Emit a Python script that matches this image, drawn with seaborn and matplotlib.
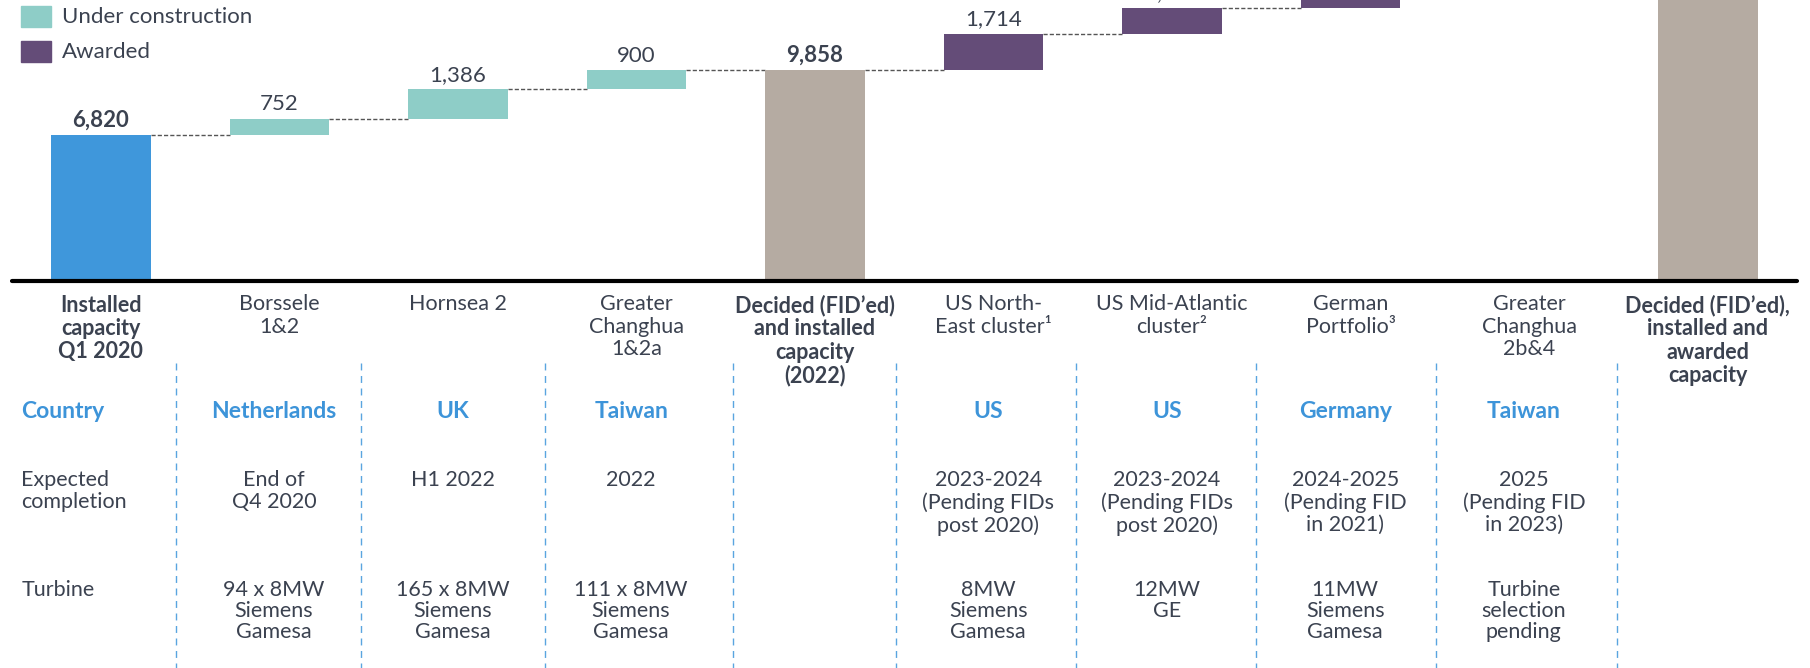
import numpy as np
import pandas as pd
import matplotlib
matplotlib.use("Agg")
import matplotlib.pyplot as plt
import matplotlib.transforms as mtransforms
from matplotlib.patches import Rectangle
import seaborn as sns

# ===============================
# Data
# ===============================
categories = [
    "Installed\ncapacity\nQ1 2020",
    "Borssele\n1&2",
    "Hornsea 2",
    "Greater\nChanghua\n1&2a",
    "Decided (FID’ed)\nand installed\ncapacity\n(2022)",
    "US North-\nEast cluster¹",
    "US Mid-Atlantic\ncluster²",
    "German\nPortfolio³",
    "Greater\nChanghua\n2b&4",
    "Decided (FID’ed),\ninstalled and\nawarded\ncapacity",
]
values = [6820, 752, 1386, 900, 9858, 1714, 1220, 1142, 920, 14854]
kinds = ["installed", "construction", "construction", "construction", "total",
         "awarded", "awarded", "awarded", "awarded", "total"]

countries = ["", "Netherlands", "UK", "Taiwan", "", "US", "US", "Germany", "Taiwan", ""]
completion = ["", "End of\nQ4 2020", "H1 2022", "2022", "",
              "2023-2024\n(Pending FIDs\npost 2020)", "2023-2024\n(Pending FIDs\npost 2020)",
              "2024-2025\n(Pending FID\nin 2021)", "2025\n(Pending FID\nin 2023)", ""]
turbines = ["", "94 x 8MW\nSiemens\nGamesa", "165 x 8MW\nSiemens\nGamesa", "111 x 8MW\nSiemens\nGamesa", "",
            "8MW\nSiemens\nGamesa", "12MW\nGE", "11MW\nSiemens\nGamesa", "Turbine\nselection\npending", ""]
row_labels = ["Country", "Expected\ncompletion", "Turbine"]

colors = {"installed": "#3f97db", "construction": "#8ecdc7",
          "awarded": "#644c78", "total": "#b5aba2"}
TEXT = "#3b4250"
BLUE = "#3d94d9"

# waterfall bottoms
bottoms = []
running = 0
for v, k in zip(values, kinds):
    if k in ("installed", "total"):
        bottoms.append(0)
        running = v
    else:
        bottoms.append(running)
        running += v
tops = [b + v for b, v in zip(bottoms, values)]

df = pd.DataFrame({"category": categories, "value": values, "kind": kinds})

# ===============================
# Figure
# ===============================
sns.set_style("white")
plt.rcParams["font.family"] = ["Lato", "DejaVu Sans"]

W, H = 1810, 668
fig = plt.figure(figsize=(W / 100, H / 100), dpi=100)
base_px = 280.5
ax = fig.add_axes([11.5 / W, (H - base_px) / H, 1785.5 / W, base_px / H])

sns.barplot(data=df, x="category", y="value", hue="category",
            palette=[colors[k] for k in kinds], width=0.558,
            saturation=1, legend=False, ax=ax)

for cont, b in zip(ax.containers, bottoms):
    for p in cont:
        p.set_y(b)
        p.set_linewidth(0)

ax.set_xlim(-0.5, 9.5)
ax.set_ylim(0, base_px / 0.02134)
ax.set_xticks([])
ax.set_yticks([])
ax.set_xlabel("")
ax.set_ylabel("")
for s in ax.spines.values():
    s.set_visible(False)
ax.axhline(0, color="black", lw=3, clip_on=False)

# connectors
hw = 0.558 / 2
for i in range(len(values) - 1):
    ax.plot([i + hw, i + 1 - hw], [tops[i], tops[i]], color="#555555",
            lw=1, ls=(0, (3, 1.5)), zorder=0)

# value labels
for i, (v, t, k) in enumerate(zip(values, tops, kinds)):
    ax.annotate(f"{v:,}", (i, t), xytext=(0, 6.2), textcoords="offset points",
                ha="center", va="baseline", fontsize=16, color=TEXT,
                fontweight="bold" if k in ("installed", "total") else "normal")

# ===============================
# Table below
# ===============================
trans = mtransforms.blended_transform_factory(ax.transData, fig.transFigure)
fy = lambda px: 1 - px / H

for i, c in enumerate(categories):
    bold = kinds[i] in ("installed", "total")
    ax.text(i, fy(294.5), c, transform=trans, ha="center", va="top",
            fontsize=15.5, color=TEXT, linespacing=1.13,
            fontweight="bold" if bold else "normal")

for i in range(len(categories)):
    xc = i - 0.03
    if countries[i]:
        ax.text(xc, fy(401.5), countries[i], transform=trans, ha="center", va="top",
                fontsize=16.5, color=BLUE, fontweight="bold")
    if completion[i]:
        ax.text(xc, fy(469.5), completion[i], transform=trans, ha="center", va="top",
                fontsize=15.5, color=TEXT, linespacing=1.15)
    if turbines[i]:
        ax.text(xc, fy(580.5), turbines[i], transform=trans, ha="center", va="top",
                fontsize=15.5, color=TEXT, linespacing=1.06)

lx = -0.446
ax.text(lx, fy(401.5), row_labels[0], transform=trans, ha="left", va="top",
        fontsize=16.5, color=BLUE, fontweight="bold")
ax.text(lx, fy(469.5), row_labels[1], transform=trans, ha="left", va="top",
        fontsize=15.5, color=TEXT, linespacing=1.15)
ax.text(lx, fy(580.5), row_labels[2], transform=trans, ha="left", va="top",
        fontsize=15.5, color=TEXT)

# dashed column separators
for sx in [0.42, 1.46, 2.49, 3.54, 4.455, 5.46, 6.47, 7.48, 8.49]:
    ax.plot([sx, sx], [fy(363), fy(668)], transform=trans, clip_on=False,
            color="#5aa5e0", lw=1, ls=(0, (5, 4)))

# legend
for j, (lab, k) in enumerate([("Under construction", "construction"), ("Awarded", "awarded")]):
    top = [6, 41][j]
    fig.patches.append(Rectangle((21 / W, fy(top + 21)), 30 / W, 21 / H,
                                 transform=fig.transFigure, color=colors[k]))
    fig.text(62 / W, fy(top + 11), lab, ha="left", va="center",
             fontsize=16, color=TEXT)

fig.savefig("out.png", dpi=100)
